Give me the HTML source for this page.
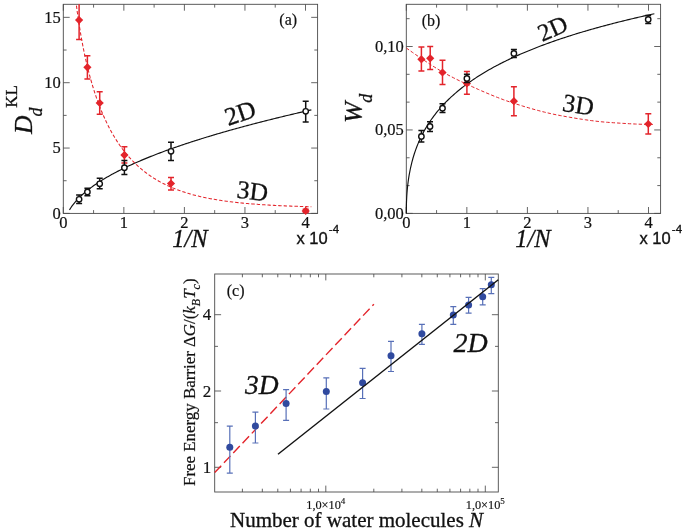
<!DOCTYPE html>
<html lang="en">
<head>
<meta charset="utf-8">
<title>Figure</title>
<style>
html,body{margin:0;padding:0;background:#fff;}
svg{display:block;will-change:transform;}
</style>
</head>
<body>
<svg width="685" height="532" viewBox="0 0 685 532">
<rect width="685" height="532" fill="#fff"/>
<clipPath id="ca"><rect x="63.3" y="4.3" width="254.3" height="209.1"/></clipPath>
<rect x="63.3" y="4.3" width="254.3" height="209.1" fill="none" stroke="#4a4a4a" stroke-width="0.9"/>
<path d="M63.3 213.4L63.3 207M63.3 4.3L63.3 10.7M123.85 213.4L123.85 207M123.85 4.3L123.85 10.7M184.4 213.4L184.4 207M184.4 4.3L184.4 10.7M244.95 213.4L244.95 207M244.95 4.3L244.95 10.7M305.5 213.4L305.5 207M305.5 4.3L305.5 10.7M93.57 213.4L93.57 210.1M93.57 4.3L93.57 7.6M154.12 213.4L154.12 210.1M154.12 4.3L154.12 7.6M214.68 213.4L214.68 210.1M214.68 4.3L214.68 7.6M275.22 213.4L275.22 210.1M275.22 4.3L275.22 7.6M63.3 213.4L69.7 213.4M317.6 213.4L311.2 213.4M63.3 148.05L69.7 148.05M317.6 148.05L311.2 148.05M63.3 82.7L69.7 82.7M317.6 82.7L311.2 82.7M63.3 17.35L69.7 17.35M317.6 17.35L311.2 17.35M63.3 180.73L66.6 180.73M317.6 180.73L314.3 180.73M63.3 115.38L66.6 115.38M317.6 115.38L314.3 115.38M63.3 50.03L66.6 50.03M317.6 50.03L314.3 50.03" stroke="#4a4a4a" stroke-width="0.85" fill="none"/>
<path d="M69.48 209.9L70.69 207.97L71.91 206.2L73.12 204.56L74.34 203.03L75.55 201.59L76.77 200.22L77.99 198.92L79.2 197.68L80.42 196.48L81.63 195.33L82.85 194.22L84.06 193.15L85.28 192.11L86.49 191.11L87.71 190.13L88.93 189.17L90.14 188.24L91.36 187.34L92.57 186.45L93.79 185.58L95 184.74L96.22 183.91L97.43 183.09L98.65 182.29L99.87 181.51L101.08 180.74L102.3 179.98L103.51 179.24L104.73 178.51L105.94 177.79L107.16 177.08L108.37 176.38L109.59 175.69L110.81 175.01L112.02 174.34L113.24 173.68L114.45 173.03L115.67 172.39L116.88 171.75L118.1 171.13L119.31 170.51L120.53 169.89L121.75 169.29L122.96 168.69L124.18 168.1L125.39 167.51L126.61 166.93L127.82 166.35L129.04 165.79L130.25 165.22L131.47 164.67L132.69 164.12L133.9 163.57L135.12 163.03L136.33 162.49L137.55 161.96L138.76 161.43L139.98 160.91L141.19 160.39L142.41 159.88L143.63 159.37L144.84 158.86L146.06 158.36L147.27 157.86L148.49 157.37L149.7 156.88L150.92 156.4L152.13 155.91L153.35 155.44L154.57 154.96L155.78 154.49L157 154.02L158.21 153.55L159.43 153.09L160.64 152.63L161.86 152.18L163.07 151.73L164.29 151.28L165.51 150.83L166.72 150.39L167.94 149.94L169.15 149.51L170.37 149.07L171.58 148.64L172.8 148.21L174.01 147.78L175.23 147.35L176.45 146.93L177.66 146.51L178.88 146.09L180.09 145.68L181.31 145.27L182.52 144.85L183.74 144.45L184.95 144.04L186.17 143.64L187.39 143.23L188.6 142.83L189.82 142.44L191.03 142.04L192.25 141.65L193.46 141.25L194.68 140.86L195.89 140.48L197.11 140.09L198.33 139.71L199.54 139.33L200.76 138.94L201.97 138.57L203.19 138.19L204.4 137.81L205.62 137.44L206.83 137.07L208.05 136.7L209.27 136.33L210.48 135.97L211.7 135.6L212.91 135.24L214.13 134.88L215.34 134.52L216.56 134.16L217.77 133.8L218.99 133.45L220.21 133.09L221.42 132.74L222.64 132.39L223.85 132.04L225.07 131.69L226.28 131.34L227.5 131L228.71 130.66L229.93 130.31L231.15 129.97L232.36 129.63L233.58 129.29L234.79 128.96L236.01 128.62L237.22 128.29L238.44 127.95L239.66 127.62L240.87 127.29L242.09 126.96L243.3 126.63L244.52 126.3L245.73 125.98L246.95 125.65L248.16 125.33L249.38 125.01L250.6 124.69L251.81 124.37L253.03 124.05L254.24 123.73L255.46 123.41L256.67 123.09L257.89 122.78L259.1 122.47L260.32 122.15L261.54 121.84L262.75 121.53L263.97 121.22L265.18 120.91L266.4 120.61L267.61 120.3L268.83 119.99L270.04 119.69L271.26 119.38L272.48 119.08L273.69 118.78L274.91 118.48L276.12 118.18L277.34 117.88L278.55 117.58L279.77 117.29L280.98 116.99L282.2 116.69L283.42 116.4L284.63 116.11L285.85 115.81L287.06 115.52L288.28 115.23L289.49 114.94L290.71 114.65L291.92 114.36L293.14 114.07L294.36 113.79L295.57 113.5L296.79 113.22L298 112.93L299.22 112.65L300.43 112.37L301.65 112.08L302.86 111.8L304.08 111.52L305.3 111.24L306.51 110.96L307.73 110.68L308.94 110.41L310.16 110.13L311.37 109.85" stroke="#111" stroke-width="1.15" fill="none"/>
<path d="M72.38 -31.97L73.58 -19.25L74.78 -7.98L75.99 2.13L77.19 11.31L78.39 19.7L79.59 27.44L80.79 34.61L81.99 41.29L83.19 47.54L84.39 53.4L85.59 58.92L86.79 64.14L87.99 69.08L89.2 73.76L90.4 78.22L91.6 82.46L92.8 86.5L94 90.37L95.2 94.06L96.4 97.6L97.6 100.99L98.8 104.24L100 107.37L101.21 110.37L102.41 113.26L103.61 116.04L104.81 118.72L106.01 121.3L107.21 123.78L108.41 126.19L109.61 128.5L110.81 130.74L112.01 132.9L113.22 135L114.42 137.02L115.62 138.97L116.82 140.87L118.02 142.7L119.22 144.47L120.42 146.19L121.62 147.86L122.82 149.47L124.02 151.03L125.22 152.55L126.43 154.02L127.63 155.45L128.83 156.83L130.03 158.18L131.23 159.48L132.43 160.75L133.63 161.98L134.83 163.17L136.03 164.33L137.23 165.46L138.44 166.56L139.64 167.62L140.84 168.66L142.04 169.66L143.24 170.64L144.44 171.59L145.64 172.52L146.84 173.41L148.04 174.29L149.24 175.14L150.44 175.97L151.65 176.77L152.85 177.56L154.05 178.32L155.25 179.06L156.45 179.78L157.65 180.49L158.85 181.17L160.05 181.84L161.25 182.49L162.45 183.12L163.66 183.73L164.86 184.33L166.06 184.92L167.26 185.49L168.46 186.04L169.66 186.58L170.86 187.11L172.06 187.62L173.26 188.12L174.46 188.6L175.66 189.08L176.87 189.54L178.07 189.99L179.27 190.43L180.47 190.85L181.67 191.27L182.87 191.68L184.07 192.07L185.27 192.46L186.47 192.83L187.67 193.2L188.88 193.56L190.08 193.91L191.28 194.25L192.48 194.58L193.68 194.9L194.88 195.22L196.08 195.52L197.28 195.82L198.48 196.11L199.68 196.4L200.89 196.68L202.09 196.95L203.29 197.21L204.49 197.47L205.69 197.72L206.89 197.97L208.09 198.21L209.29 198.44L210.49 198.67L211.69 198.89L212.89 199.11L214.1 199.32L215.3 199.53L216.5 199.73L217.7 199.93L218.9 200.12L220.1 200.31L221.3 200.49L222.5 200.67L223.7 200.84L224.9 201.01L226.11 201.18L227.31 201.34L228.51 201.5L229.71 201.65L230.91 201.8L232.11 201.95L233.31 202.09L234.51 202.23L235.71 202.37L236.91 202.5L238.11 202.63L239.32 202.76L240.52 202.88L241.72 203L242.92 203.12L244.12 203.23L245.32 203.35L246.52 203.46L247.72 203.56L248.92 203.67L250.12 203.77L251.33 203.87L252.53 203.97L253.73 204.06L254.93 204.16L256.13 204.25L257.33 204.34L258.53 204.42L259.73 204.51L260.93 204.59L262.13 204.67L263.33 204.75L264.54 204.83L265.74 204.9L266.94 204.97L268.14 205.04L269.34 205.11L270.54 205.18L271.74 205.25L272.94 205.31L274.14 205.38L275.34 205.44L276.55 205.5L277.75 205.56L278.95 205.62L280.15 205.67L281.35 205.73L282.55 205.78L283.75 205.84L284.95 205.89L286.15 205.94L287.35 205.99L288.56 206.03L289.76 206.08L290.96 206.13L292.16 206.17L293.36 206.21L294.56 206.26L295.76 206.3L296.96 206.34L298.16 206.38L299.36 206.42L300.56 206.45L301.77 206.49L302.97 206.53L304.17 206.56L305.37 206.6L306.57 206.63L307.77 206.66L308.97 206.7L310.17 206.73L311.37 206.76" stroke="#e3242b" stroke-width="1.05" fill="none" stroke-dasharray="3.4 2" clip-path="url(#ca)"/>
<g clip-path="url(#ca)">
<path d="M79.1 1V39.4M76.1 1H82.1M76.1 39.4H82.1" stroke="#e3242b" stroke-width="1.5" fill="none"/>
<path d="M87.4 55.8V79.1M84.4 55.8H90.4M84.4 79.1H90.4" stroke="#e3242b" stroke-width="1.5" fill="none"/>
<path d="M99.7 91.7V114.3M96.7 91.7H102.7M96.7 114.3H102.7" stroke="#e3242b" stroke-width="1.5" fill="none"/>
<path d="M124.4 146.8V163M121.4 146.8H127.4M121.4 163H127.4" stroke="#e3242b" stroke-width="1.5" fill="none"/>
<path d="M171 177.5V190M168 177.5H174M168 190H174" stroke="#e3242b" stroke-width="1.5" fill="none"/>
<path d="M305.7 209.2V212.6M302.7 209.2H308.7M302.7 212.6H308.7" stroke="#e3242b" stroke-width="1.5" fill="none"/>
</g>
<path d="M79.1 16L83.2 20.1L79.1 24.2L75 20.1Z" fill="#e3242b"/>
<path d="M87.4 63.2L91.5 67.3L87.4 71.4L83.3 67.3Z" fill="#e3242b"/>
<path d="M99.7 98.9L103.8 103L99.7 107.1L95.6 103Z" fill="#e3242b"/>
<path d="M124.4 151L128.5 155.1L124.4 159.2L120.3 155.1Z" fill="#e3242b"/>
<path d="M171 179.4L175.1 183.5L171 187.6L166.9 183.5Z" fill="#e3242b"/>
<path d="M305.7 206.8L309.8 210.9L305.7 215L301.6 210.9Z" fill="#e3242b"/>
<path d="M79.1 195V203.4M76.1 195H82.1M76.1 203.4H82.1" stroke="#111" stroke-width="1.5" fill="none"/>
<path d="M87.4 188.3V195.8M84.4 188.3H90.4M84.4 195.8H90.4" stroke="#111" stroke-width="1.5" fill="none"/>
<path d="M99.7 178.2V188.8M96.7 178.2H102.7M96.7 188.8H102.7" stroke="#111" stroke-width="1.5" fill="none"/>
<path d="M124.4 160.6V174.5M121.4 160.6H127.4M121.4 174.5H127.4" stroke="#111" stroke-width="1.5" fill="none"/>
<path d="M171 142.3V160.4M168 142.3H174M168 160.4H174" stroke="#111" stroke-width="1.5" fill="none"/>
<path d="M305.7 101.3V121.9M302.7 101.3H308.7M302.7 121.9H308.7" stroke="#111" stroke-width="1.5" fill="none"/>
<circle cx="79.1" cy="199.3" r="2.7" fill="#fff" stroke="#111" stroke-width="1.4"/>
<circle cx="87.4" cy="192" r="2.7" fill="#fff" stroke="#111" stroke-width="1.4"/>
<circle cx="99.7" cy="183.8" r="2.7" fill="#fff" stroke="#111" stroke-width="1.4"/>
<circle cx="124.4" cy="167.7" r="2.7" fill="#fff" stroke="#111" stroke-width="1.4"/>
<circle cx="171" cy="151.3" r="2.7" fill="#fff" stroke="#111" stroke-width="1.4"/>
<circle cx="305.7" cy="111.3" r="2.7" fill="#fff" stroke="#111" stroke-width="1.4"/>
<text x="60.8" y="218.6" font-family='"Liberation Serif", "DejaVu Serif", serif' font-size="16.5" text-anchor="end" fill="#111" stroke="#111" stroke-width="0.2">0</text>
<text x="60.8" y="153.25" font-family='"Liberation Serif", "DejaVu Serif", serif' font-size="16.5" text-anchor="end" fill="#111" stroke="#111" stroke-width="0.2">5</text>
<text x="60.8" y="87.9" font-family='"Liberation Serif", "DejaVu Serif", serif' font-size="16.5" text-anchor="end" fill="#111" stroke="#111" stroke-width="0.2">10</text>
<text x="60.8" y="22.55" font-family='"Liberation Serif", "DejaVu Serif", serif' font-size="16.5" text-anchor="end" fill="#111" stroke="#111" stroke-width="0.2">15</text>
<text x="63.3" y="228.1" font-family='"Liberation Serif", "DejaVu Serif", serif' font-size="16.5" text-anchor="middle" fill="#111" stroke="#111" stroke-width="0.2">0</text>
<text x="123.85" y="228.1" font-family='"Liberation Serif", "DejaVu Serif", serif' font-size="16.5" text-anchor="middle" fill="#111" stroke="#111" stroke-width="0.2">1</text>
<text x="184.4" y="228.1" font-family='"Liberation Serif", "DejaVu Serif", serif' font-size="16.5" text-anchor="middle" fill="#111" stroke="#111" stroke-width="0.2">2</text>
<text x="244.95" y="228.1" font-family='"Liberation Serif", "DejaVu Serif", serif' font-size="16.5" text-anchor="middle" fill="#111" stroke="#111" stroke-width="0.2">3</text>
<text x="305.5" y="228.1" font-family='"Liberation Serif", "DejaVu Serif", serif' font-size="16.5" text-anchor="middle" fill="#111" stroke="#111" stroke-width="0.2">4</text>
<text x="288.2" y="25.3" font-family='"Liberation Serif", "DejaVu Serif", serif' font-size="16" text-anchor="middle" fill="#111" stroke="#111" stroke-width="0.2">(a)</text>
<text x="190" y="247.3" font-family='"Liberation Serif", "DejaVu Serif", serif' font-size="24.5" text-anchor="middle" fill="#111" font-style="italic" stroke="#111" stroke-width="0.3">1/N</text>
<text x="296.5" y="243.5" font-family='"Liberation Sans", "DejaVu Sans", sans-serif' font-size="16.5" text-anchor="start" fill="#111" stroke="#111" stroke-width="0.35">x 10</text>
<text x="328.8" y="233.2" font-family='"Liberation Sans", "DejaVu Sans", sans-serif' font-size="11.5" text-anchor="start" fill="#111" stroke="#111" stroke-width="0.35">-4</text>
<text x="243" y="121" font-family='"Liberation Serif", "DejaVu Serif", serif' font-size="25.5" text-anchor="middle" fill="#111" transform="rotate(-19 243 121)" stroke="#111" stroke-width="0.3">2D</text>
<text x="251.5" y="199.5" font-family='"Liberation Serif", "DejaVu Serif", serif' font-size="25.5" text-anchor="middle" fill="#111" transform="rotate(7 251.5 199.5)" stroke="#111" stroke-width="0.3">3D</text>
<g transform="translate(31.8 134) rotate(-90)" font-family='"Liberation Serif", "DejaVu Serif", serif' fill="#111" stroke="#111" stroke-width="0.3"><text x="0" y="0" font-size="25.5" font-style="italic">D</text><text x="17.6" y="10.1" font-size="18" font-style="italic">d</text><text x="26.3" y="-15.2" font-size="17">KL</text></g>
<clipPath id="cb"><rect x="406.3" y="4.3" width="254.3" height="209.1"/></clipPath>
<rect x="406.3" y="4.3" width="254.3" height="209.1" fill="none" stroke="#4a4a4a" stroke-width="0.9"/>
<path d="M406.3 213.4L406.3 207M406.3 4.3L406.3 10.7M466.85 213.4L466.85 207M466.85 4.3L466.85 10.7M527.4 213.4L527.4 207M527.4 4.3L527.4 10.7M587.95 213.4L587.95 207M587.95 4.3L587.95 10.7M648.5 213.4L648.5 207M648.5 4.3L648.5 10.7M436.57 213.4L436.57 210.1M436.57 4.3L436.57 7.6M497.12 213.4L497.12 210.1M497.12 4.3L497.12 7.6M557.67 213.4L557.67 210.1M557.67 4.3L557.67 7.6M618.23 213.4L618.23 210.1M618.23 4.3L618.23 7.6M406.3 213.4L412.7 213.4M660.6 213.4L654.2 213.4M406.3 129.95L412.7 129.95M660.6 129.95L654.2 129.95M406.3 46.5L412.7 46.5M660.6 46.5L654.2 46.5M406.3 185.58L409.6 185.58M660.6 185.58L657.3 185.58M406.3 157.77L409.6 157.77M660.6 157.77L657.3 157.77M406.3 102.13L409.6 102.13M660.6 102.13L657.3 102.13M406.3 74.32L409.6 74.32M660.6 74.32L657.3 74.32M406.3 18.68L409.6 18.68M660.6 18.68L657.3 18.68" stroke="#4a4a4a" stroke-width="0.85" fill="none"/>
<path d="M406.3 213.4L406.3 212.52L406.3 211.7L406.31 210.9L406.31 210.12L406.32 209.35L406.33 208.59L406.34 207.83L406.36 207.09L406.37 206.35L406.39 205.61L406.41 204.89L406.43 204.17L406.45 203.45L406.47 202.74L406.5 202.03L406.52 201.33L406.55 200.63L406.58 199.93L406.61 199.24L406.65 198.55L406.68 197.87L406.72 197.19L406.76 196.52L406.8 195.84L406.84 195.17L406.89 194.51L406.93 193.84L406.98 193.18L407.03 192.53L407.08 191.87L407.14 191.22L407.19 190.57L407.25 189.93L407.31 189.29L407.37 188.65L407.43 188.01L407.49 187.37L407.56 186.74L407.62 186.11L407.69 185.49L407.76 184.86L407.83 184.24L407.91 183.62L407.98 183.01L408.06 182.39L408.14 181.78L408.22 181.17L408.3 180.56L408.39 179.96L408.47 179.35L408.56 178.75L408.65 178.16L408.74 177.56L408.84 176.97L408.93 176.37L409.03 175.79L409.13 175.2L409.23 174.61L409.33 174.03L410.56 167.76L411.79 162.53L413.02 157.99L414.25 153.96L415.48 150.32L416.72 146.98L417.95 143.89L419.18 141.01L420.41 138.31L421.64 135.77L422.87 133.36L424.1 131.08L425.34 128.9L426.57 126.81L427.8 124.82L429.03 122.9L430.26 121.05L431.49 119.28L432.72 117.56L433.96 115.9L435.19 114.29L436.42 112.73L437.65 111.22L438.88 109.75L440.11 108.32L441.34 106.93L442.57 105.58L443.81 104.25L445.04 102.97L446.27 101.71L447.5 100.48L448.73 99.27L449.96 98.1L451.19 96.95L452.43 95.82L453.66 94.72L454.89 93.63L456.12 92.57L457.35 91.53L458.58 90.51L459.81 89.5L461.05 88.52L462.28 87.55L463.51 86.6L464.74 85.66L465.97 84.74L467.2 83.83L468.43 82.94L469.67 82.06L470.9 81.2L472.13 80.35L473.36 79.51L474.59 78.68L475.82 77.87L477.05 77.07L478.29 76.27L479.52 75.49L480.75 74.72L481.98 73.96L483.21 73.21L484.44 72.47L485.67 71.74L486.9 71.02L488.14 70.3L489.37 69.6L490.6 68.9L491.83 68.22L493.06 67.54L494.29 66.87L495.52 66.2L496.76 65.55L497.99 64.9L499.22 64.26L500.45 63.62L501.68 62.99L502.91 62.37L504.14 61.76L505.38 61.15L506.61 60.55L507.84 59.95L509.07 59.36L510.3 58.78L511.53 58.2L512.76 57.63L514 57.06L515.23 56.5L516.46 55.95L517.69 55.39L518.92 54.85L520.15 54.31L521.38 53.77L522.62 53.24L523.85 52.72L525.08 52.2L526.31 51.68L527.54 51.17L528.77 50.66L530 50.16L531.23 49.66L532.47 49.16L533.7 48.67L534.93 48.19L536.16 47.7L537.39 47.23L538.62 46.75L539.85 46.28L541.09 45.81L542.32 45.35L543.55 44.89L544.78 44.43L546.01 43.98L547.24 43.53L548.47 43.09L549.71 42.64L550.94 42.21L552.17 41.77L553.4 41.34L554.63 40.91L555.86 40.48L557.09 40.06L558.33 39.64L559.56 39.22L560.79 38.81L562.02 38.4L563.25 37.99L564.48 37.58L565.71 37.18L566.94 36.78L568.18 36.38L569.41 35.99L570.64 35.6L571.87 35.21L573.1 34.82L574.33 34.43L575.56 34.05L576.8 33.67L578.03 33.3L579.26 32.92L580.49 32.55L581.72 32.18L582.95 31.81L584.18 31.45L585.42 31.08L586.65 30.72L587.88 30.37L589.11 30.01L590.34 29.66L591.57 29.3L592.8 28.95L594.04 28.61L595.27 28.26L596.5 27.92L597.73 27.58L598.96 27.24L600.19 26.9L601.42 26.56L602.66 26.23L603.89 25.9L605.12 25.57L606.35 25.24L607.58 24.91L608.81 24.59L610.04 24.26L611.27 23.94L612.51 23.62L613.74 23.31L614.97 22.99L616.2 22.68L617.43 22.36L618.66 22.05L619.89 21.74L621.13 21.44L622.36 21.13L623.59 20.83L624.82 20.52L626.05 20.22L627.28 19.92L628.51 19.63L629.75 19.33L630.98 19.04L632.21 18.74L633.44 18.45L634.67 18.16L635.9 17.87L637.13 17.58L638.37 17.3L639.6 17.01L640.83 16.73L642.06 16.45L643.29 16.17L644.52 15.89L645.75 15.61L646.99 15.33L648.22 15.06L649.45 14.78L650.68 14.51L651.91 14.24L653.14 13.97L654.37 13.7" stroke="#111" stroke-width="1.15" fill="none"/>
<path d="M406.3 48L409.44 50.25L412.58 52.47L415.73 54.65L418.87 56.8L422.01 58.91L425.15 61L428.29 63.09L431.43 65.14L434.58 67.15L437.72 69.1L440.86 70.96L444 72.74L447.14 74.46L450.28 76.13L453.43 77.76L456.57 79.35L459.71 80.89L462.85 82.39L465.99 83.86L469.14 85.29L472.28 86.71L475.42 88.12L478.56 89.52L481.7 90.9L484.84 92.26L487.99 93.59L491.13 94.9L494.27 96.18L497.41 97.42L500.55 98.63L503.69 99.8L506.84 100.92L509.98 102.01L513.12 103.04L516.26 104.04L519.4 105.03L522.55 106L525.69 106.96L528.83 107.89L531.97 108.8L535.11 109.68L538.25 110.53L541.4 111.36L544.54 112.15L547.68 112.91L550.82 113.63L553.96 114.31L557.11 114.95L560.25 115.55L563.39 116.12L566.53 116.69L569.67 117.24L572.81 117.78L575.96 118.31L579.1 118.82L582.24 119.31L585.38 119.78L588.52 120.23L591.66 120.65L594.81 121.05L597.95 121.41L601.09 121.75L604.23 122.05L607.37 122.31L610.52 122.53L613.66 122.75L616.8 122.95L619.94 123.16L623.08 123.36L626.22 123.54L629.37 123.72L632.51 123.89L635.65 124.04L638.79 124.17L641.93 124.28L645.07 124.37L648.22 124.44L651.36 124.48L654.5 124.5" stroke="#e3242b" stroke-width="1.0" fill="none" stroke-dasharray="3.4 2"/>
<path d="M421.4 47V71M418.4 47H424.4M418.4 71H424.4" stroke="#e3242b" stroke-width="1.5" fill="none"/>
<path d="M430.2 46.6V69.6M427.2 46.6H433.2M427.2 69.6H433.2" stroke="#e3242b" stroke-width="1.5" fill="none"/>
<path d="M442.5 60.2V84.5M439.5 60.2H445.5M439.5 84.5H445.5" stroke="#e3242b" stroke-width="1.5" fill="none"/>
<path d="M466.9 71.6V94.2M463.9 71.6H469.9M463.9 94.2H469.9" stroke="#e3242b" stroke-width="1.5" fill="none"/>
<path d="M513.9 86.8V115.8M510.9 86.8H516.9M510.9 115.8H516.9" stroke="#e3242b" stroke-width="1.5" fill="none"/>
<path d="M648.3 113.8V134M645.3 113.8H651.3M645.3 134H651.3" stroke="#e3242b" stroke-width="1.5" fill="none"/>
<path d="M421.4 55.2L425.5 59.3L421.4 63.4L417.3 59.3Z" fill="#e3242b"/>
<path d="M430.2 54.2L434.3 58.3L430.2 62.4L426.1 58.3Z" fill="#e3242b"/>
<path d="M442.5 68.4L446.6 72.5L442.5 76.6L438.4 72.5Z" fill="#e3242b"/>
<path d="M466.9 79.4L471 83.5L466.9 87.6L462.8 83.5Z" fill="#e3242b"/>
<path d="M513.9 97.1L518 101.2L513.9 105.3L509.8 101.2Z" fill="#e3242b"/>
<path d="M648.3 119.9L652.4 124L648.3 128.1L644.2 124Z" fill="#e3242b"/>
<path d="M421.4 130.4V142M418.4 130.4H424.4M418.4 142H424.4" stroke="#111" stroke-width="1.5" fill="none"/>
<path d="M430 121.7V131.4M427 121.7H433M427 131.4H433" stroke="#111" stroke-width="1.5" fill="none"/>
<path d="M442.5 103.8V112.4M439.5 103.8H445.5M439.5 112.4H445.5" stroke="#111" stroke-width="1.5" fill="none"/>
<path d="M466.9 74.3V82.6M463.9 74.3H469.9M463.9 82.6H469.9" stroke="#111" stroke-width="1.5" fill="none"/>
<path d="M513.9 49.6V57.4M510.9 49.6H516.9M510.9 57.4H516.9" stroke="#111" stroke-width="1.5" fill="none"/>
<path d="M648.2 15.6V23.4M645.2 15.6H651.2M645.2 23.4H651.2" stroke="#111" stroke-width="1.5" fill="none"/>
<circle cx="421.4" cy="136.4" r="2.7" fill="#fff" stroke="#111" stroke-width="1.4"/>
<circle cx="430" cy="126.5" r="2.7" fill="#fff" stroke="#111" stroke-width="1.4"/>
<circle cx="442.5" cy="108.2" r="2.7" fill="#fff" stroke="#111" stroke-width="1.4"/>
<circle cx="466.9" cy="78.4" r="2.7" fill="#fff" stroke="#111" stroke-width="1.4"/>
<circle cx="513.9" cy="53.4" r="2.7" fill="#fff" stroke="#111" stroke-width="1.4"/>
<circle cx="648.2" cy="19.4" r="2.7" fill="#fff" stroke="#111" stroke-width="1.4"/>
<text x="403.8" y="218.6" font-family='"Liberation Serif", "DejaVu Serif", serif' font-size="16.5" text-anchor="end" fill="#111" stroke="#111" stroke-width="0.2">0,00</text>
<text x="403.8" y="135.15" font-family='"Liberation Serif", "DejaVu Serif", serif' font-size="16.5" text-anchor="end" fill="#111" stroke="#111" stroke-width="0.2">0,05</text>
<text x="403.8" y="51.7" font-family='"Liberation Serif", "DejaVu Serif", serif' font-size="16.5" text-anchor="end" fill="#111" stroke="#111" stroke-width="0.2">0,10</text>
<text x="406.3" y="228.1" font-family='"Liberation Serif", "DejaVu Serif", serif' font-size="16.5" text-anchor="middle" fill="#111" stroke="#111" stroke-width="0.2">0</text>
<text x="466.85" y="228.1" font-family='"Liberation Serif", "DejaVu Serif", serif' font-size="16.5" text-anchor="middle" fill="#111" stroke="#111" stroke-width="0.2">1</text>
<text x="527.4" y="228.1" font-family='"Liberation Serif", "DejaVu Serif", serif' font-size="16.5" text-anchor="middle" fill="#111" stroke="#111" stroke-width="0.2">2</text>
<text x="587.95" y="228.1" font-family='"Liberation Serif", "DejaVu Serif", serif' font-size="16.5" text-anchor="middle" fill="#111" stroke="#111" stroke-width="0.2">3</text>
<text x="648.5" y="228.1" font-family='"Liberation Serif", "DejaVu Serif", serif' font-size="16.5" text-anchor="middle" fill="#111" stroke="#111" stroke-width="0.2">4</text>
<text x="431" y="26.3" font-family='"Liberation Serif", "DejaVu Serif", serif' font-size="16" text-anchor="middle" fill="#111" stroke="#111" stroke-width="0.2">(b)</text>
<text x="533" y="247.3" font-family='"Liberation Serif", "DejaVu Serif", serif' font-size="24.5" text-anchor="middle" fill="#111" font-style="italic" stroke="#111" stroke-width="0.3">1/N</text>
<text x="639.5" y="243.5" font-family='"Liberation Sans", "DejaVu Sans", sans-serif' font-size="16.5" text-anchor="start" fill="#111" stroke="#111" stroke-width="0.35">x 10</text>
<text x="671.8" y="233.2" font-family='"Liberation Sans", "DejaVu Sans", sans-serif' font-size="11.5" text-anchor="start" fill="#111" stroke="#111" stroke-width="0.35">-4</text>
<text x="556" y="36" font-family='"Liberation Serif", "DejaVu Serif", serif' font-size="24.5" text-anchor="middle" fill="#111" transform="rotate(-24 556 36)" stroke="#111" stroke-width="0.3">2D</text>
<text x="577" y="113.3" font-family='"Liberation Serif", "DejaVu Serif", serif' font-size="25.5" text-anchor="middle" fill="#111" transform="rotate(9 577 113.3)" stroke="#111" stroke-width="0.3">3D</text>
<g transform="translate(362.3 123) rotate(-90)" font-family='"Liberation Serif", "DejaVu Serif", serif' fill="#111" stroke="#111" stroke-width="0.3"><text x="0" y="0" font-size="25.5" font-style="italic">W</text><text x="20.2" y="9.5" font-size="18" font-style="italic">d</text></g>
<clipPath id="cc"><rect x="214.7" y="274" width="283.6" height="218"/></clipPath>
<rect x="214.7" y="274" width="283.6" height="218" fill="none" stroke="#4a4a4a" stroke-width="0.9"/>
<path d="M325.8 492L325.8 485.6M325.8 274L325.8 280.4M485.3 492L485.3 485.6M485.3 274L485.3 280.4M242.4 492L242.4 488.7M242.4 274L242.4 277.3M262.33 492L262.33 488.7M262.33 274L262.33 277.3M277.79 492L277.79 488.7M277.79 274L277.79 277.3M290.42 492L290.42 488.7M290.42 274L290.42 277.3M301.09 492L301.09 488.7M301.09 274L301.09 277.3M310.34 492L310.34 488.7M310.34 274L310.34 277.3M318.5 492L318.5 488.7M318.5 274L318.5 277.3M373.81 492L373.81 488.7M373.81 274L373.81 277.3M401.9 492L401.9 488.7M401.9 274L401.9 277.3M421.83 492L421.83 488.7M421.83 274L421.83 277.3M437.29 492L437.29 488.7M437.29 274L437.29 277.3M449.92 492L449.92 488.7M449.92 274L449.92 277.3M460.59 492L460.59 488.7M460.59 274L460.59 277.3M469.84 492L469.84 488.7M469.84 274L469.84 277.3M478 492L478 488.7M478 274L478 277.3M214.7 467.3L221.1 467.3M498.3 467.3L491.9 467.3M214.7 391L221.1 391M498.3 391L491.9 391M214.7 314.7L221.1 314.7M498.3 314.7L491.9 314.7M214.7 422.67L218 422.67M498.3 422.67L495 422.67M214.7 346.37L218 346.37M498.3 346.37L495 346.37" stroke="#4a4a4a" stroke-width="0.85" fill="none"/>
<path d="M214.7 472.6L373.9 304.2" stroke="#e3242b" stroke-width="1.4" stroke-dasharray="9.5 4" fill="none"/>
<path d="M229.8 426.1V473.1M226.8 426.1H232.8M226.8 473.1H232.8" stroke="#5870b8" stroke-width="1.2" fill="none"/>
<path d="M255.4 412.1V443M252.4 412.1H258.4M252.4 443H258.4" stroke="#5870b8" stroke-width="1.2" fill="none"/>
<path d="M286.1 389.6V420.4M283.1 389.6H289.1M283.1 420.4H289.1" stroke="#5870b8" stroke-width="1.2" fill="none"/>
<path d="M326.3 377.8V409M323.3 377.8H329.3M323.3 409H329.3" stroke="#5870b8" stroke-width="1.2" fill="none"/>
<path d="M362.6 368.3V398.5M359.6 368.3H365.6M359.6 398.5H365.6" stroke="#5870b8" stroke-width="1.2" fill="none"/>
<path d="M391 341.4V371.5M388 341.4H394M388 371.5H394" stroke="#5870b8" stroke-width="1.2" fill="none"/>
<path d="M421.9 324.3V344.4M418.9 324.3H424.9M418.9 344.4H424.9" stroke="#5870b8" stroke-width="1.2" fill="none"/>
<path d="M453.3 306.7V324.3M450.3 306.7H456.3M450.3 324.3H456.3" stroke="#5870b8" stroke-width="1.2" fill="none"/>
<path d="M468.6 297.4V313.2M465.6 297.4H471.6M465.6 313.2H471.6" stroke="#5870b8" stroke-width="1.2" fill="none"/>
<path d="M482.7 288.6V304.9M479.7 288.6H485.7M479.7 304.9H485.7" stroke="#5870b8" stroke-width="1.2" fill="none"/>
<path d="M491.3 277.3V293.6M488.3 277.3H494.3M488.3 293.6H494.3" stroke="#5870b8" stroke-width="1.2" fill="none"/>
<circle cx="229.8" cy="447.2" r="3.5" fill="#304a9f"/>
<circle cx="255.4" cy="426.1" r="3.5" fill="#304a9f"/>
<circle cx="286.1" cy="403.5" r="3.5" fill="#304a9f"/>
<circle cx="326.3" cy="391.6" r="3.5" fill="#304a9f"/>
<circle cx="362.6" cy="382.8" r="3.5" fill="#304a9f"/>
<circle cx="391" cy="355.7" r="3.5" fill="#304a9f"/>
<circle cx="421.9" cy="333.8" r="3.5" fill="#304a9f"/>
<circle cx="453.3" cy="315" r="3.5" fill="#304a9f"/>
<circle cx="468.6" cy="304.9" r="3.5" fill="#304a9f"/>
<circle cx="482.7" cy="296.7" r="3.5" fill="#304a9f"/>
<circle cx="491.3" cy="284.8" r="3.5" fill="#304a9f"/>
<path d="M278 454.3L498.3 279.8" stroke="#111" stroke-width="1.4" fill="none"/>
<text x="211.2" y="472.8" font-family='"Liberation Serif", "DejaVu Serif", serif' font-size="17" text-anchor="end" fill="#111" stroke="#111" stroke-width="0.2">1</text>
<text x="211.2" y="396.5" font-family='"Liberation Serif", "DejaVu Serif", serif' font-size="17" text-anchor="end" fill="#111" stroke="#111" stroke-width="0.2">2</text>
<text x="211.2" y="320.2" font-family='"Liberation Serif", "DejaVu Serif", serif' font-size="17" text-anchor="end" fill="#111" stroke="#111" stroke-width="0.2">4</text>
<text x="325.8" y="509" font-family='"Liberation Serif", "DejaVu Serif", serif' font-size="12.3" text-anchor="middle" fill="#111" stroke="#111" stroke-width="0.15">1,0×10<tspan dy="-5.5" font-size="9">4</tspan></text>
<text x="485.3" y="509" font-family='"Liberation Serif", "DejaVu Serif", serif' font-size="12.3" text-anchor="middle" fill="#111" stroke="#111" stroke-width="0.15">1,0×10<tspan dy="-5.5" font-size="9">5</tspan></text>
<text x="235.6" y="296.3" font-family='"Liberation Serif", "DejaVu Serif", serif' font-size="16" text-anchor="middle" fill="#111" stroke="#111" stroke-width="0.2">(c)</text>
<text x="245" y="394" font-family='"Liberation Serif", "DejaVu Serif", serif' font-size="27.5" text-anchor="start" fill="#111" font-style="italic" stroke="#111" stroke-width="0.3">3D</text>
<text x="453.5" y="352.2" font-family='"Liberation Serif", "DejaVu Serif", serif' font-size="28" text-anchor="start" fill="#111" font-style="italic" stroke="#111" stroke-width="0.3">2D</text>
<text x="230" y="526.8" font-family='"Liberation Serif", "DejaVu Serif", serif' font-size="21" fill="#111" stroke="#111" stroke-width="0.3">Number of water molecules <tspan font-style="italic">N</tspan></text>
<g transform="translate(195 486) rotate(-90)" font-family='"Liberation Serif", "DejaVu Serif", serif' fill="#111" font-size="16.9" stroke="#111" stroke-width="0.2"><text x="0" y="0">Free Energy Barrier Δ<tspan font-style="italic">G</tspan>/(<tspan font-style="italic">k</tspan><tspan font-style="italic" font-size="12" dy="5">B</tspan><tspan font-style="italic" dy="-5">T</tspan><tspan font-style="italic" font-size="12" dy="5">c</tspan><tspan dy="-5">)</tspan></text></g>
</svg>
</body>
</html>
